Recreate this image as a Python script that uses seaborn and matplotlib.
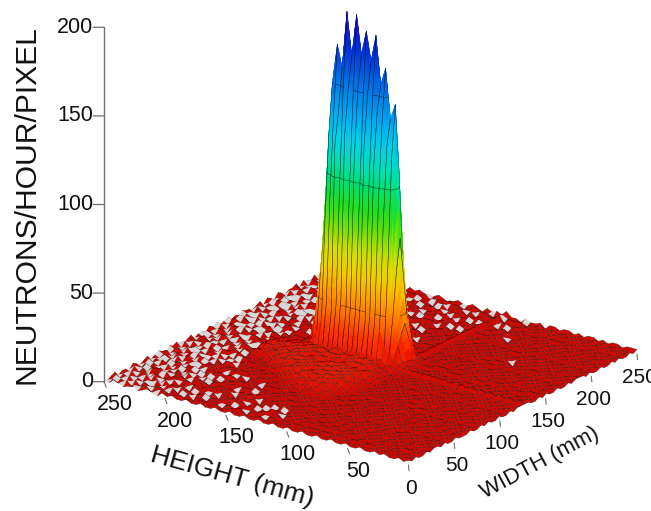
import matplotlib
matplotlib.use("Agg")
import matplotlib.pyplot as plt
import numpy as np
import seaborn as sns
from mpl_toolkits.mplot3d.art3d import Poly3DCollection, Line3DCollection

# floor counts, one digit per node, top row is HEIGHT index 63, 0 = empty pixel
FLOOR_ROWS = """
10120110 21012012 10212101 20110212 01201021 10120210 21011202 10210120
01201102 10120101 20110212 01021102 10212011 02101201 10212010 21012012
20110210 12011021 01201021 12010210 21102101 20110212 01021101 20120110
11021012 01102010 21021101 20101202 10120102 11021201 02110201 12011021
02101120 21011202 10102012 11021021 20110210 12010211 02011210 21102012
10210201 12020110 21201102 01120110 21012011 02110202 11021020 11201021
21011021 20101201 10210212 10201212 01102102 11201021 01210110 20110212
01201210 21012011 02012101 12102011 20210110 21012102 10201201 12021011
12102011 01201102 12011020 21011021 10120212 01102011 21011210 21120101
20110212 12011201 01102121 10210120 21102011 21201012 01201021 10212012
11201021 20210112 10210112 01201211 02101211 10211021 12011212 01012110
02112101 11012021 12011021 21102110 12011210 21020112 10212101 21201201
21021112 02101211 21201210 12101212 11201012 11201211 02112012 10211021
11202111 21012112 11210212 33434531 22122212 10212111 20121102 11201211
21121021 11201211 21021212 43545342 12212121 12021201 11210212 01121102
12011211 20112102 11212111 34545452 21212012 12112110 21021121 11201210
11210121 12101211 21112122 45354543 31211212 01211201 12111021 21012112
21021112 11211201 21211213 54546454 42112121 21021211 10211212 11210211
11212011 21121121 12112134 45656545 52212112 11212011 21121102 12011212
12101212 11212101 21212245 56465656 43212012 12112121 01211211 21101211
21121021 21112121 12112354 65656565 44212121 20121112 12101212 11210121
11211212 10211212 11213456 56565654 53212112 12112101 21211210 21121101
12112110 21212111 21224565 65656556 42121211 21210212 11021211 12011212
21011212 11121021 12235465 65465654 52112121 12112111 21211201 21210211
11212121 21011212 12345656 56565645 41212112 11211212 10212112 01212110
12101211 12121211 22456565 65656564 52121211 21112012 12112101 21102121
21211012 11211212 13545656 54656565 43212121 12121121 01211212 11210212
11212110 21121121 24565465 65456556 52112112 21211212 11021211 21011211
12011212 11212112 35456565 56565645 41221211 12112101 21211210 12112101
21210121 21121212 34565656 56545654 52112122 11211211 20112121 10212112
11121012 12112122 45465656 65656565 42212111 21121212 11210211 21120121
12112201 21211213 35656565 56565654 52121212 12112021 21121121 02112110
21011212 11212123 45456565 65465665 42112121 21211212 11212012 11210212
11212101 21121212 34565656 56565654 32212112 12112121 21121121 20121211
12120112 12112123 33546565 65456543 22121212 11212112 12112012 11212102
21112121 21211212 22335454 56544432 31212121 21121211 21211211 20112111
11211212 11212121 21223434 34343322 23333333 33333333 33333333 33232323
12112111 21121212 12112223 22322212 31212121 12112121 21121211 12112011
21211212 11212112 11212121 21212221 32121212 21211212 11211212 11021211
11212121 21121211 21121212 12122122 31212121 12112121 21121211 21121210
12112112 12112121 12112121 21211212 32112112 21211212 12112121 12011212
21211211 21211212 21211212 12112121 31211211 12112121 21211212 21121101
11212121 12112121 12112121 21211212 32121212 21211212 12112121 12112121
12112112 21211212 21211212 12112121 31211211 12112121 21211201 21211212
21211211 12112121 12112121 21211212 32112112 21211212 12112121 12112120
11212122 21121211 21211212 11212121 31212121 12112121 21211212 21121212
12112111 12112122 12112121 21121212 32112112 21212112 12112122 12112112
21221212 21211211 21121212 12112121 21211221 12121211 21211211 21211221
11212121 12112122 12211212 21211212 32112112 21121212 11212122 12112112
12112212 21211211 21121121 12112121 21211212 12112121 21121211 21211212
21211121 12112122 21212112 21212112 31212121 21211202 12112122 11212121
11221212 21121211 12112122 12121211 22112112 12112121 21211211 21211212
12112121 12212112 21211211 21211212 31211221 21211212 12112122 12112121
21211212 21121221 12112122 12112121 22121212 12112121 21211211 21211212
11212112 12112112 21211211 21211212 31211211 21211212 12112122 12112112
12121221 21211212 12112121 12112122 22112121 12112211 21211212 21121221
21211212 12112121 21211212 21211211 31211212 21211212 12112121 12112112
12112121 21211212 12112121 12112122 22121211 12112121 21211212 21211221
21221211 12112122 21211212 21211211 31212112 21211212 12112121 12112112
11212122 21211211 12112121 12112122 22112121 12112122 21211211 21211212
12112112 12112122 21211212 21211211 31211212 21211211 12112122 12112121
21211221 21211211 12112121 12112122 22121211 12112121 21211212 21211212
12112112 12112122 21211212 21211211 31211212 21211212 12112121 12112112
21211212 21211211 12112121 12112122 22112121 12112122 21211211 21211212
""".split("\n")[1:-1]
FLOOR_SCALE = 1.3

# beam counts along HEIGHT index 25..46, one list per WIDTH index
BEAM_W31 = [3, 4, 5, 4, 7, 6, 8, 6, 9, 7, 8, 6, 9, 7, 8, 6, 7, 6, 5, 4, 3, 3]
BEAM_W32 = [4, 5, 7, 10, 14, 22, 26, 30, 24, 34, 28, 32, 26, 34, 30, 25, 30, 20, 12, 8, 5, 4]
BEAM_W33 = [4, 6, 14, 30, 60, 80, 92, 110, 96, 120, 86, 112, 94, 124, 98, 118, 90, 78, 44, 20, 7, 4]
BEAM_W34 = [3, 5, 20, 55, 118, 124, 136, 142, 146, 150, 140, 152, 146, 150, 152, 136, 134, 122, 66, 28, 6, 3]
BEAM_W35 = [3, 5, 25, 72, 147, 138, 166, 156, 183, 168, 184, 170, 192, 168, 192, 160, 172, 150, 92, 36, 6, 3]
BEAM_W36 = [3, 4, 16, 48, 110, 118, 128, 135, 142, 142, 140, 144, 146, 142, 144, 132, 128, 118, 60, 24, 5, 3]
BEAM_W37 = [3, 4, 10, 25, 60, 70, 80, 85, 90, 86, 92, 88, 84, 90, 86, 78, 75, 60, 30, 12, 4, 3]
BEAM_W38 = [3, 3, 4, 6, 10, 12, 14, 12, 15, 13, 14, 12, 14, 13, 11, 12, 10, 8, 5, 4, 3, 2]

HEIGHT_TICKS = [50, 100, 150, 200, 250]
WIDTH_TICKS = [0, 50, 100, 150, 200, 250]
COUNT_TICKS = [0, 50, 100, 150, 200]
CONTOUR_LEVELS = [30, 100, 150]

ELEV, AZIM = 21.4, 216.9

sns.set_theme(style="white")
plt.rcParams["font.family"] = ["Liberation Sans", "DejaVu Sans"]

rows = [r.replace(" ", "")[:64].ljust(64, "1") for r in FLOOR_ROWS]
counts = np.array([[int(c) for c in r] for r in rows[::-1]], dtype=float)
empty = counts == 0
Z = counts * FLOOR_SCALE
Z[25:47, 31:39] = np.array([BEAM_W31, BEAM_W32, BEAM_W33, BEAM_W34,
                            BEAM_W35, BEAM_W36, BEAM_W37, BEAM_W38]).T
n_h, n_w = Z.shape
w_mm = np.linspace(0, 250, n_w)
h_mm = np.linspace(0, 250, n_h)
W, H = np.meshgrid(w_mm, h_mm)

cmap = sns.blend_palette(["#d00000", "#ff2800", "#ff6a00", "#ffa000", "#f4d000", "#d0e000",
                          "#70e008", "#20e020", "#00e070", "#00e0c0", "#00d0f0", "#00a8f0",
                          "#0080e8", "#0058e0", "#0030d8", "#2010d4", "#4400d0"], as_cmap=True)
to_colour = lambda v: cmap(np.asarray(v) / 200)

# cell colours: mean of the four corners
cell_mean = np.zeros_like(Z)
cell_mean[:-1, :-1] = (Z[:-1, :-1] + Z[1:, :-1] + Z[:-1, 1:] + Z[1:, 1:]) / 4
cell_range = np.zeros_like(Z)
stack = np.stack([Z[:-1, :-1], Z[1:, :-1], Z[:-1, 1:], Z[1:, 1:]])
cell_range[:-1, :-1] = stack.max(axis=0) - stack.min(axis=0)
steep = cell_range > 18

face = to_colour(cell_mean)
edge = np.tile(np.array([0.05, 0, 0, 1.0]), (n_h, n_w, 1))
face[empty] = edge[empty] = (0.84, 0.84, 0.84, 1)
face[steep] = edge[steep] = (0, 0, 0, 0)

fig = plt.figure(figsize=(6.51, 5.11), dpi=100)
SIZE = 800
CENTRE_X, CENTRE_Y = 359.7, 309.5
ax = fig.add_axes([(CENTRE_X - SIZE / 2) / 651, (CENTRE_Y - SIZE / 2) / 511, SIZE / 651, SIZE / 511],
                  projection="3d", proj_type="ortho")
ax.computed_zorder = False
ax.view_init(elev=ELEV, azim=AZIM)
ax.set_box_aspect((1, 1, 1), zoom=0.8)
ax.patch.set_alpha(0)

floor = ax.plot_surface(W, H, Z, rstride=1, cstride=1, facecolors=face, shade=False,
                        linewidth=0.15, zorder=1)
floor.set_edgecolor(edge[:-1, :-1].reshape(-1, 4))

# beam cells are split along the facet so the colour runs up the wall
cam = np.array([np.cos(np.radians(ELEV)) * np.cos(np.radians(AZIM)),
                np.cos(np.radians(ELEV)) * np.sin(np.radians(AZIM)),
                np.sin(np.radians(ELEV))])
polys, poly_z, wall_lines, contour_lines = [], [], [], []


def facet_point(j, i, u, v):
    z = (Z[j, i] * (1 - u) * (1 - v) + Z[j, i + 1] * u * (1 - v)
         + Z[j + 1, i] * (1 - u) * v + Z[j + 1, i + 1] * u * v)
    x = w_mm[i] + u * (w_mm[i + 1] - w_mm[i])
    y = h_mm[j] + v * (h_mm[j + 1] - h_mm[j])
    return (x, y, z)


def faces_viewer(j, i):
    fw = ((Z[j, i + 1] + Z[j + 1, i + 1]) - (Z[j, i] + Z[j + 1, i])) / 2 / 200 * (n_w - 1)
    fh = ((Z[j + 1, i] + Z[j + 1, i + 1]) - (Z[j, i] + Z[j, i + 1])) / 2 / 200 * (n_h - 1)
    return np.dot([-fw, -fh, 1], cam) > 0


NU, NV = 14, 3
for j, i in zip(*np.nonzero(steep)):
    for a in range(NU):
        for b in range(NV):
            u0, u1, v0, v1 = a / NU, (a + 1) / NU, b / NV, (b + 1) / NV
            quad = [facet_point(j, i, u0, v0), facet_point(j, i, u1, v0),
                    facet_point(j, i, u1, v1), facet_point(j, i, u0, v1)]
            polys.append(quad)
            poly_z.append(np.mean([q[2] for q in quad]))
    if not faces_viewer(j, i):
        continue
    wall_lines.append([facet_point(j, i, 0, 0), facet_point(j, i, 1, 0)])
    wall_lines.append([facet_point(j, i, 0, 1), facet_point(j, i, 1, 1)])
    for level in CONTOUR_LEVELS:
        crossings = []
        for p, q in [((0, 0), (1, 0)), ((1, 0), (1, 1)), ((1, 1), (0, 1)), ((0, 1), (0, 0))]:
            zp, zq = facet_point(j, i, *p)[2], facet_point(j, i, *q)[2]
            if (zp - level) * (zq - level) < 0:
                f = (level - zp) / (zq - zp)
                crossings.append(facet_point(j, i, p[0] + f * (q[0] - p[0]), p[1] + f * (q[1] - p[1])))
        if len(crossings) == 2:
            contour_lines.append(crossings)

beam_cols = to_colour(poly_z)
beam = Poly3DCollection(polys, facecolors=beam_cols, edgecolors=beam_cols, linewidths=0.3, zorder=2)
ax.add_collection3d(beam)
ax.add_collection3d(Line3DCollection(wall_lines, colors=[(0, 0, 0, 0.55)], linewidths=0.35, zorder=3))
ax.add_collection3d(Line3DCollection(contour_lines, colors=[(0, 0, 0, 0.6)], linewidths=0.45, zorder=3))

# axes are drawn by hand along the floor edges, as in the original plot
AXIS_C = "#707070"
TEXT_C = "#111111"
ax.plot([0, 0], [250, 250], [0, 200], color=AXIS_C, lw=1.0, zorder=4)
for c in COUNT_TICKS:
    ax.plot([-4.3, 0], [255.8, 250], [c, c], color=AXIS_C, lw=0.9, zorder=4)
    ax.text(-4.3, 255.8, c, str(c), ha="right", va="center", fontsize=15.5, color=TEXT_C)
for t in HEIGHT_TICKS:
    ax.plot([-7, 0], [t - 7, t], [0, 0], color=AXIS_C, lw=0.8, zorder=4)
    ax.text(-28.4, t - 30, 0, str(t), ha="center", va="center", rotation=-15,
            fontsize=15.5, color=TEXT_C)
for t in WIDTH_TICKS:
    ax.plot([t - 8, t], [-6.5, 0], [0, 0], color=AXIS_C, lw=0.8, zorder=4)
    ax.text(t - 32.2, -26.2, 0, str(t), ha="center", va="center", rotation=36,
            fontsize=15, color=TEXT_C)

ax.set_xlim(0, 250)
ax.set_ylim(0, 250)
ax.set_zlim(0, 200)
ax.set_axis_off()

fig.text(27 / 651, 1 - 205 / 511, "NEUTRONS/HOUR/PIXEL", rotation=90, ha="center", va="center",
         fontsize=21.6, color=TEXT_C)
fig.text(232 / 651, 1 - 477 / 511, "HEIGHT (mm)", rotation=-15.5, ha="center", va="center",
         fontsize=19, color=TEXT_C)
fig.text(540 / 651, 1 - 463 / 511, "WIDTH (mm)", rotation=28, ha="center", va="center",
         fontsize=16, color=TEXT_C)

fig.savefig("out.png", dpi=100, facecolor="white")
